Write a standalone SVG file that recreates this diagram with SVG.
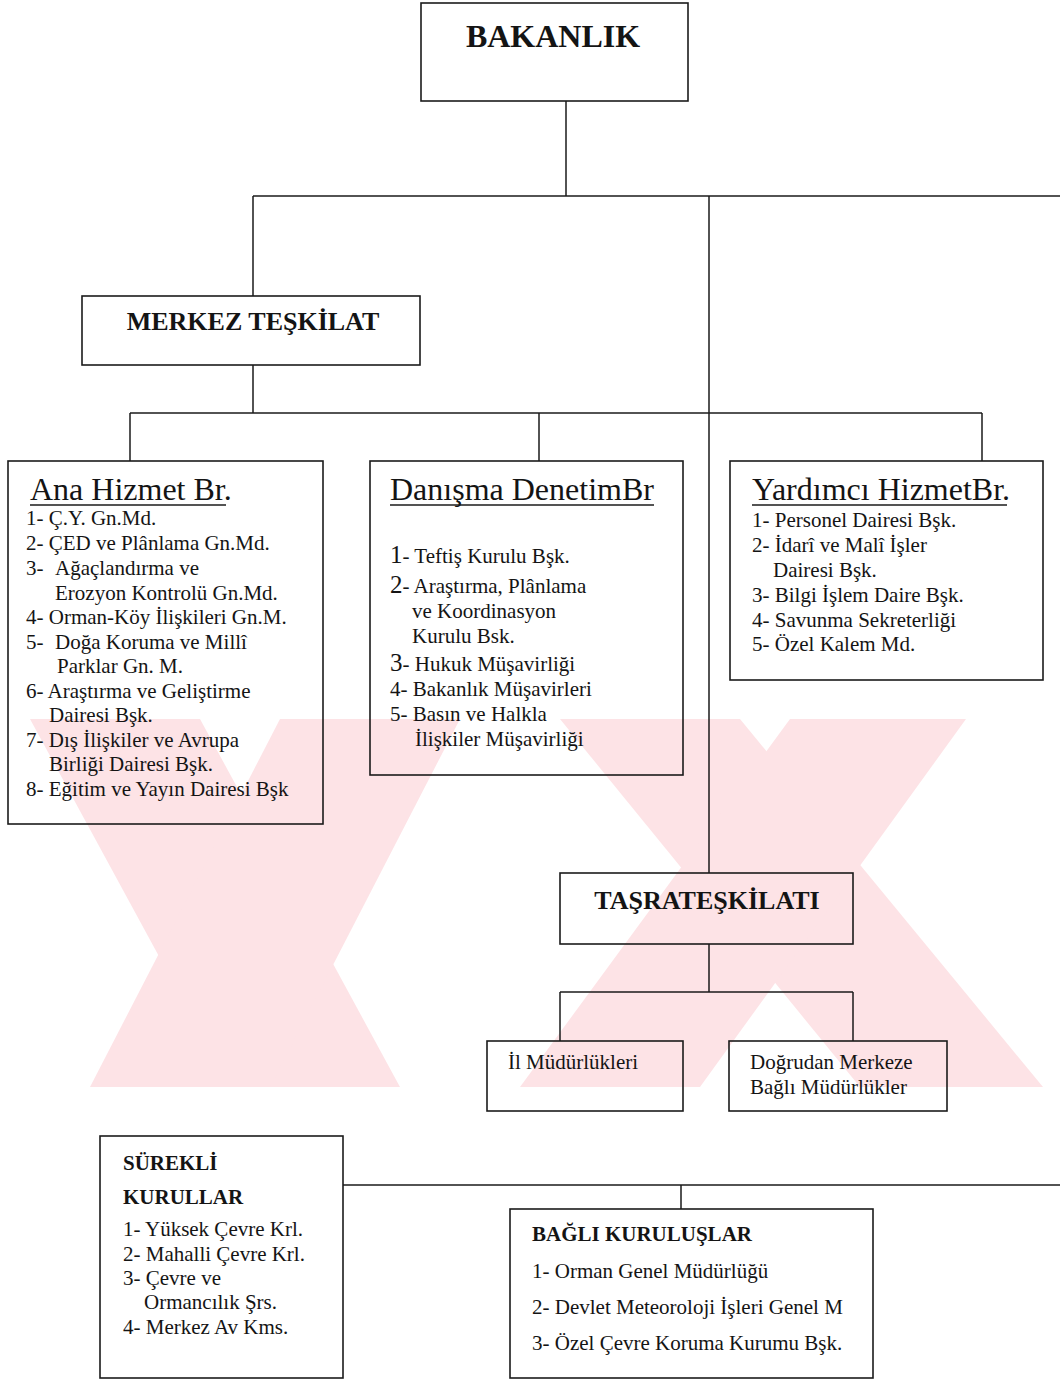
<svg xmlns="http://www.w3.org/2000/svg" width="1060" height="1380" viewBox="0 0 1060 1380">
<style>
.box{fill:none;stroke:#1b1b1b;stroke-width:1.6}
.ln{fill:none;stroke:#1b1b1b;stroke-width:1.5}
.ul{stroke:#1b1b1b;stroke-width:1.3}
text{font-family:"Liberation Serif","Times New Roman",serif;fill:#141414}
.h{font-weight:bold}
.t{font-size:32px}
.i{font-size:21px}
.big{font-size:25px}
.wm{fill:#fde3e6}
</style>
<rect width="1060" height="1380" fill="#ffffff"/>
<g id="watermark">
<polygon class="wm" points="30,719 200,719 400,1087 230,1087"/>
<polygon class="wm" points="280,719 460,719 270,1087 90,1087"/>
<polygon class="wm" points="560,719 740,719 1043,1087 860,1087"/>
<polygon class="wm" points="790,719 966,719 700,1087 520,1087"/>
</g>
<g id="connectors">
<path class="ln" d="M566 101V196 M253 196H1060 M253 196V296 M709 196V873 M253 365V413 M130 413H982 M130 413V461 M539 413V461 M982 413V461 M709 944V992 M560 992H853 M560 992V1041 M853 992V1041 M343 1185H1060 M681 1185V1209"/>
</g>
<g id="bakanlik">
<rect class="box" x="421" y="3" width="267" height="98"/>
<text class="h" x="553" y="47" font-size="32" text-anchor="middle">BAKANLIK</text>
</g>
<g id="merkez">
<rect class="box" x="82" y="296" width="338" height="69"/>
<text class="h" x="253" y="330" font-size="26" text-anchor="middle">MERKEZ TEŞKİLAT</text>
</g>
<g id="ana-hizmet">
<rect class="box" x="8" y="461" width="315" height="363"/>
<text class="t" x="30" y="500">Ana Hizmet Br.</text>
<line class="ul" x1="30" y1="505" x2="226" y2="505"/>
<text class="i" x="26" y="525">1- Ç.Y. Gn.Md.</text>
<text class="i" x="26" y="550">2- ÇED ve Plânlama Gn.Md.</text>
<text class="i" x="26" y="575">3-</text>
<text class="i" x="55" y="575">Ağaçlandırma ve</text>
<text class="i" x="55" y="600">Erozyon Kontrolü Gn.Md.</text>
<text class="i" x="26" y="624">4- Orman-Köy İlişkileri Gn.M.</text>
<text class="i" x="26" y="649">5-</text>
<text class="i" x="55" y="649">Doğa Koruma ve Millî</text>
<text class="i" x="57" y="673">Parklar Gn. M.</text>
<text class="i" x="26" y="698">6- Araştırma ve Geliştirme</text>
<text class="i" x="49" y="722">Dairesi Bşk.</text>
<text class="i" x="26" y="747">7- Dış İlişkiler ve Avrupa</text>
<text class="i" x="49" y="771">Birliği Dairesi Bşk.</text>
<text class="i" x="26" y="796">8- Eğitim ve Yayın Dairesi Bşk</text>
</g>
<g id="danisma-denetim">
<rect class="box" x="370" y="461" width="313" height="314"/>
<text class="t" x="390" y="500">Danışma DenetimBr</text>
<line class="ul" x1="390" y1="505" x2="654" y2="505"/>
<text class="i" x="390" y="563"><tspan class="big">1</tspan>- Teftiş Kurulu Bşk.</text>
<text class="i" x="390" y="593"><tspan class="big">2</tspan>- Araştırma, Plânlama</text>
<text class="i" x="412" y="618">ve Koordinasyon</text>
<text class="i" x="412" y="643">Kurulu Bsk.</text>
<text class="i" x="390" y="671"><tspan class="big">3</tspan>- Hukuk Müşavirliği</text>
<text class="i" x="390" y="696">4- Bakanlık Müşavirleri</text>
<text class="i" x="390" y="721">5- Basın ve Halkla</text>
<text class="i" x="415" y="746">İlişkiler Müşavirliği</text>
</g>
<g id="yardimci-hizmet">
<rect class="box" x="730" y="461" width="313" height="219"/>
<text class="t" x="752" y="500">Yardımcı HizmetBr.</text>
<line class="ul" x1="752" y1="505" x2="1007" y2="505"/>
<text class="i" x="752" y="527">1- Personel Dairesi Bşk.</text>
<text class="i" x="752" y="552">2- İdarî ve Malî İşler</text>
<text class="i" x="773" y="577">Dairesi Bşk.</text>
<text class="i" x="752" y="602">3- Bilgi İşlem Daire Bşk.</text>
<text class="i" x="752" y="627">4- Savunma Sekreterliği</text>
<text class="i" x="752" y="651">5- Özel Kalem Md.</text>
</g>
<g id="tasra">
<rect class="box" x="560" y="873" width="293" height="71"/>
<text class="h" x="707" y="909" font-size="26" text-anchor="middle">TAŞRATEŞKİLATI</text>
</g>
<g id="il-mudurlukleri">
<rect class="box" x="487" y="1041" width="196" height="70"/>
<text class="i" x="508" y="1069">İl Müdürlükleri</text>
</g>
<g id="dogrudan-merkeze">
<rect class="box" x="729" y="1041" width="218" height="70"/>
<text class="i" x="750" y="1069">Doğrudan Merkeze</text>
<text class="i" x="750" y="1094">Bağlı Müdürlükler</text>
</g>
<g id="surekli-kurullar">
<rect class="box" x="100" y="1136" width="243" height="242"/>
<text class="i h" x="123" y="1170">SÜREKLİ</text>
<text class="i h" x="123" y="1204">KURULLAR</text>
<text class="i" x="123" y="1236">1- Yüksek Çevre Krl.</text>
<text class="i" x="123" y="1261">2- Mahalli Çevre Krl.</text>
<text class="i" x="123" y="1285">3- Çevre ve</text>
<text class="i" x="144" y="1309">Ormancılık Şrs.</text>
<text class="i" x="123" y="1334">4- Merkez Av Kms.</text>
</g>
<g id="bagli-kuruluslar">
<rect class="box" x="510" y="1209" width="363" height="169"/>
<text class="i h" x="532" y="1241">BAĞLI KURULUŞLAR</text>
<text class="i" x="532" y="1278">1- Orman Genel Müdürlüğü</text>
<text class="i" x="532" y="1314">2- Devlet Meteoroloji İşleri Genel M</text>
<text class="i" x="532" y="1350">3- Özel Çevre Koruma Kurumu Bşk.</text>
</g>
</svg>
